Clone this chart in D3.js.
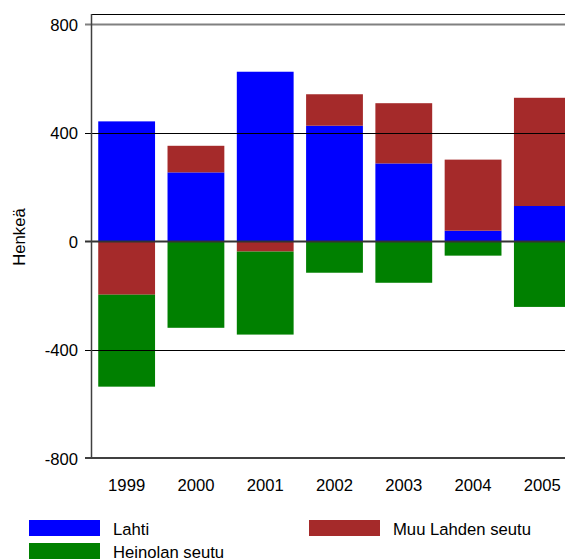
<!DOCTYPE html>
<html><head><meta charset="utf-8">
<script src="https://cdn.jsdelivr.net/npm/d3@7"></script>
<style>body{margin:0;background:#fff}svg{display:block;font-family:"Liberation Sans",Arial,sans-serif}</style>
</head><body><svg id="c" width="565" height="559"></svg>
<script>
const years = ["1999","2000","2001","2002","2003","2004","2005"];
const lahti = [441, 253, 624, 425, 286, 38, 129];
const muuLahdenSeutu = [-198, 98, -39, 116, 222, 262, 399];
const heinolanSeutu = [-339, -320, -306, -117, -154, -54, -243];
const yTicks = [-800, -400, 0, 400, 800];
const seriesNames = ["Lahti", "Muu Lahden seutu", "Heinolan seutu"];
const seriesColors = ["#0000ff", "#a52a2a", "#008000"];
const FS = 16.67;

const svg = d3.select("#c");
const x = d3.scaleBand().domain(years).range([92, 577]).paddingInner(0.18).paddingOuter(0.09);
const y = d3.scaleLinear().domain([-800, 800]).range([458, 24]);

const table = years.map((yr, i) => ({year: yr, "Lahti": lahti[i], "Muu Lahden seutu": muuLahdenSeutu[i], "Heinolan seutu": heinolanSeutu[i]}));
const stack = d3.stack().keys(seriesNames).offset(d3.stackOffsetDiverging)(table);

stack.forEach((s, si) => {
  svg.append("g").attr("fill", seriesColors[si]).selectAll("rect").data(s).join("rect")
    .attr("x", d => x(d.data.year))
    .attr("width", x.bandwidth())
    .attr("y", d => y(Math.max(d[0], d[1])))
    .attr("height", d => Math.abs(y(d[0]) - y(d[1])));
});

// grid lines
yTicks.forEach(t => {
  if (t === -800) return;
  const yy = Math.round(y(t)) + 0.5;
  let col = "#000", w = 1;
  if (t === 800) { col = "#808080"; w = 2; }
  if (t === 0) { col = "#333"; w = 2; }
  svg.append("line").attr("x1", 85).attr("x2", 565).attr("y1", yy).attr("y2", yy)
    .attr("stroke", col).attr("stroke-width", w);
});
// top border
svg.append("line").attr("x1", 92).attr("x2", 565).attr("y1", 14.5).attr("y2", 14.5).attr("stroke", "#000");
// left axis
svg.append("line").attr("x1", 91.5).attr("x2", 91.5).attr("y1", 14).attr("y2", 459).attr("stroke", "#404040").attr("stroke-width", 1.5);
// bottom axis
svg.append("line").attr("x1", 85).attr("x2", 565).attr("y1", y(-800)).attr("y2", y(-800)).attr("stroke", "#404040").attr("stroke-width", 2);

// y tick labels
svg.append("g").selectAll("text").data(yTicks).join("text")
  .attr("x", 78).attr("y", d => y(d) + 6.5)
  .attr("text-anchor", "end").attr("font-size", FS).attr("fill", "#000")
  .text(d => d);

// x labels
svg.append("g").selectAll("text").data(years).join("text")
  .attr("x", d => x(d) + x.bandwidth() / 2).attr("y", 491)
  .attr("text-anchor", "middle").attr("font-size", FS).attr("fill", "#000")
  .text(d => d);

// y axis title
svg.append("text").attr("transform", "translate(25,237) rotate(-90)")
  .attr("text-anchor", "middle").attr("font-size", FS).text("Henkeä");

// legend
const legendPos = [[29, 520], [309, 520], [29, 543]];
seriesNames.forEach((n, i) => {
  const [lx, ly] = legendPos[i];
  svg.append("rect").attr("x", lx).attr("y", ly).attr("width", 71).attr("height", 16).attr("fill", seriesColors[i]);
  svg.append("text").attr("x", lx + 84).attr("y", ly + 15).attr("font-size", FS).text(n);
});
</script></body></html>
